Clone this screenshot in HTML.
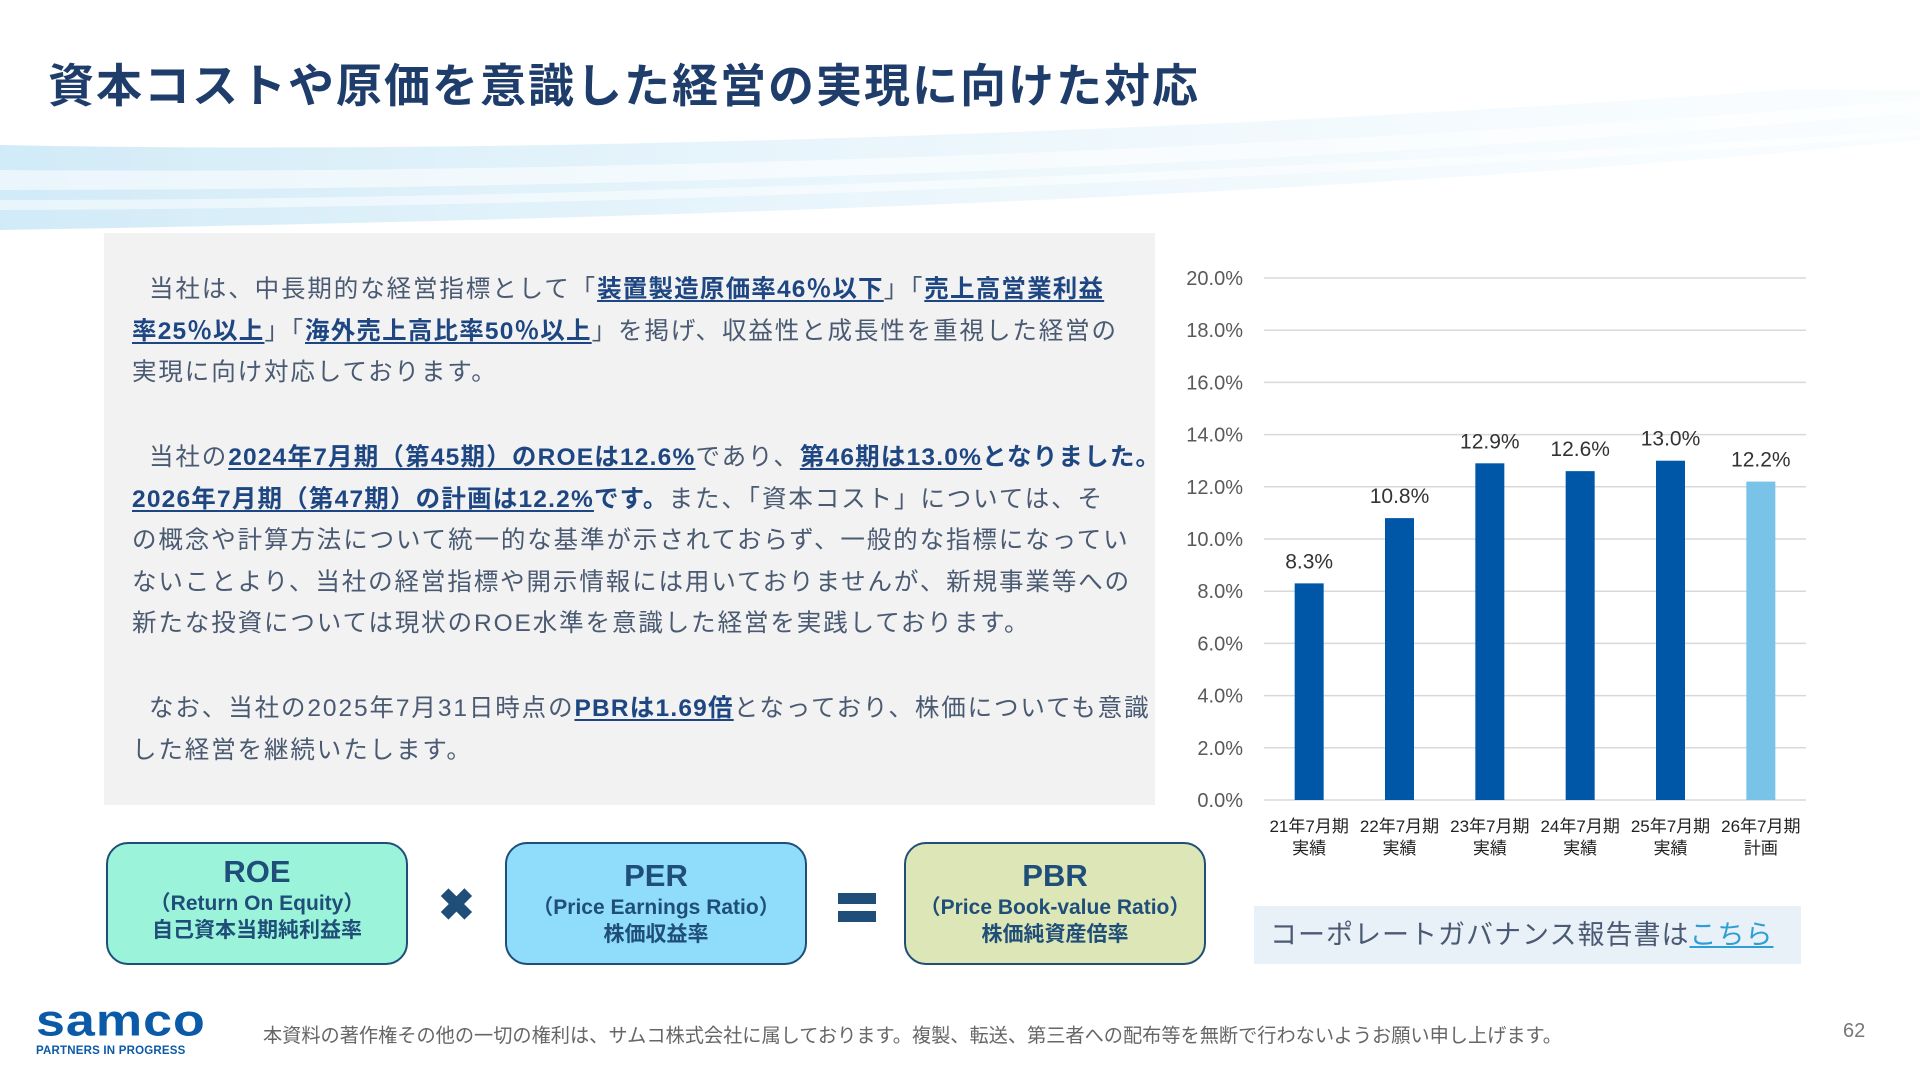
<!DOCTYPE html>
<html><head><meta charset="utf-8">
<style>
html,body{margin:0;padding:0}
body{width:1920px;height:1080px;position:relative;overflow:hidden;background:#fff;font-family:"Liberation Sans","Noto Sans CJK JP",sans-serif}
.abs{position:absolute}
#title{left:48px;top:50px;font-size:46px;font-weight:bold;color:#1f3d6b;white-space:nowrap;letter-spacing:2px}
#wave{left:0;top:90px;width:1920px;height:150px}
#panel{left:104px;top:233px;width:1051px;height:572px;background:#f2f2f2}
.ln{position:absolute;left:132px;font-size:24.5px;color:#4a5a72;white-space:nowrap;letter-spacing:1.9px;line-height:30px}
.ind{display:inline-block;width:17px}
.b{font-weight:bold;color:#1d4682;text-decoration:underline;text-underline-offset:3px;letter-spacing:1.2px}
.bn{font-weight:bold;color:#1d4682;letter-spacing:1.2px}
.box{position:absolute;top:842px;width:298px;height:119px;border:2.5px solid #1f4e79;border-radius:22px;text-align:center;color:#1f4e79;font-weight:bold}
.box .t{font-size:31px;margin-top:10px;line-height:36px}
.box .s{font-size:21px;line-height:27px}
#gov{left:1254px;top:906px;width:547px;height:58px;background:#e8f0f8;font-size:27px;color:#4a5a72;line-height:58px;padding-left:16px;box-sizing:border-box;letter-spacing:1px}
#footer{left:263px;top:1020px;font-size:19.2px;color:#666;white-space:nowrap}
#page{left:1843px;top:1020px;font-size:20px;color:#777}
</style></head><body>
<svg id="wave" class="abs" width="1920" height="150" viewBox="0 0 1920 150">
<defs>
<linearGradient id="g1" x1="0" x2="1"><stop offset="0" stop-color="#c9e7f6" stop-opacity="0.85"/><stop offset="0.5" stop-color="#dff1fa" stop-opacity="0.6"/><stop offset="1" stop-color="#eef8fd" stop-opacity="0.3"/></linearGradient>
</defs>
<path d="M0 55 C500 65 1200 45 1920 -10 L1920 50 C1300 110 600 130 0 140 Z" fill="url(#g1)"/>
<path d="M0 80 C600 85 1300 60 1920 10 L1920 22 C1300 78 600 100 0 100 Z" fill="#ffffff" opacity="0.55"/>
<path d="M0 110 C600 110 1300 80 1920 40 L1920 46 C1300 90 600 118 0 120 Z" fill="#ffffff" opacity="0.5"/>
</svg>
<div id="title" class="abs">資本コストや原価を意識した経営の実現に向けた対応</div>
<div id="panel" class="abs"></div>
<div>
<div class="ln" style="top:275px"><span class="ind"></span>当社は、中長期的な経営指標として「<span class="b">装置製造原価率46％以下</span>」「<span class="b">売上高営業利益</span></div>
<div class="ln" style="top:317px"><span class="b">率25％以上</span>」「<span class="b">海外売上高比率50％以上</span>」を掲げ、収益性と成長性を重視した経営の</div>
<div class="ln" style="top:358px">実現に向け対応しております。</div>
<div class="ln" style="top:443px"><span class="ind"></span>当社の<span class="b">2024年7月期（第45期）のROEは12.6%</span>であり、<span class="b">第46期は13.0%</span><span class="bn">となりました。</span></div>
<div class="ln" style="top:485px"><span class="b">2026年7月期（第47期）の計画は12.2%</span><span class="bn">です。</span>また、「資本コスト」については、そ</div>
<div class="ln" style="top:526px">の概念や計算方法について統一的な基準が示されておらず、一般的な指標になってい</div>
<div class="ln" style="top:568px">ないことより、当社の経営指標や開示情報には用いておりませんが、新規事業等への</div>
<div class="ln" style="top:609px">新たな投資については現状のROE水準を意識した経営を実践しております。</div>
<div class="ln" style="top:694px"><span class="ind"></span>なお、当社の2025年7月31日時点の<span class="b">PBRは1.69倍</span>となっており、株価についても意識</div>
<div class="ln" style="top:736px">した経営を継続いたします。</div>
</div>

<svg id="chart" class="abs" style="left:0;top:0" width="1920" height="1080"></svg>

<div class="box" style="left:106px;background:#9bf3da"><div class="t">ROE</div><div class="s">（Return On Equity）</div><div class="s">自己資本当期純利益率</div></div>
<div class="abs" style="left:438px;top:880px;font-size:44px;color:#1f4e79;font-weight:bold">✖</div>
<div class="box" style="left:505px;background:#8fdcfb"><div class="t" style="margin-top:14px">PER</div><div class="s">（Price Earnings Ratio）</div><div class="s">株価収益率</div></div>
<div class="abs" style="left:838px;top:893px;width:38px;height:11px;background:#1f4e79"></div>
<div class="abs" style="left:838px;top:911px;width:38px;height:11px;background:#1f4e79"></div>
<div class="box" style="left:904px;background:#dde6b6"><div class="t" style="margin-top:14px">PBR</div><div class="s">（Price Book-value Ratio）</div><div class="s">株価純資産倍率</div></div>

<div id="gov" class="abs">コーポレートガバナンス報告書は<span style="color:#2e9fd6;text-decoration:underline">こちら</span></div>

<div class="abs" style="left:36px;top:998px;width:172px">
<div style="font-size:52px;font-weight:bold;color:#0a5aa8;letter-spacing:1px;line-height:46px;transform:scaleY(0.85)">samco</div>
<div style="font-size:11.5px;font-weight:bold;color:#0a5aa8;letter-spacing:0.2px;margin-top:1px">PARTNERS IN PROGRESS</div>
</div>
<div id="footer" class="abs">本資料の著作権その他の一切の権利は、サムコ株式会社に属しております。複製、転送、第三者への配布等を無断で行わないようお願い申し上げます。</div>
<div id="page" class="abs">62</div>

<script>
const categories = ["21年7月期|実績","22年7月期|実績","23年7月期|実績","24年7月期|実績","25年7月期|実績","26年7月期|計画"];
const roeValues = [8.3, 10.8, 12.9, 12.6, 13.0, 12.2];
const valueLabels = ["8.3%","10.8%","12.9%","12.6%","13.0%","12.2%"];
const isPlan = [false,false,false,false,false,true];
const yTicks = [0,2,4,6,8,10,12,14,16,18,20];
const yTickLabels = ["0.0%","2.0%","4.0%","6.0%","8.0%","10.0%","12.0%","14.0%","16.0%","18.0%","20.0%"];

const svg = document.getElementById('chart');
const NS = 'http://www.w3.org/2000/svg';
const X0 = 1264, X1 = 1806, Y0 = 800, Y1 = 278, YMAX = 20;
const yScale = v => Y0 - (v / YMAX) * (Y0 - Y1);
const band = (X1 - X0) / categories.length;
const xCenter = i => X0 + band * (i + 0.5);
function mk(tag, attrs, text){
  const e = document.createElementNS(NS, tag);
  for (const k in attrs) e.setAttribute(k, attrs[k]);
  if (text !== undefined) e.textContent = text;
  svg.appendChild(e);
  return e;
}
yTicks.forEach((t, i) => {
  const g = mk('line', {x1:X0, x2:X1, y1:yScale(t), y2:yScale(t), stroke:'#d9d9d9', 'stroke-width':1.5});
  
  
  const l = mk('text', {x:1243, y:yScale(t)+7, 'text-anchor':'end', 'font-size':20, fill:'#595959', 'font-family':'Liberation Sans, sans-serif'}, yTickLabels[i]);
  
  
});
roeValues.forEach((v, i) => {
  const w = 29;
  const b = mk('rect', {x:xCenter(i)-w/2, y:yScale(v), width:w, height:Y0-yScale(v), fill: isPlan[i] ? '#7ac3e8' : '#0057a8'});
  
  
  const t = mk('text', {x:xCenter(i), y:yScale(v)-15, 'text-anchor':'middle', 'font-size':21, fill:'#333', 'font-family':'Liberation Sans, sans-serif'}, valueLabels[i]);
  
  
  const parts = categories[i].split('|');
  const c1 = mk('text', {x:xCenter(i), y:832, 'text-anchor':'middle', 'font-size':17, fill:'#222', 'font-family':'Liberation Sans, Noto Sans CJK JP, sans-serif'}, parts[0]);
  
  
  const c2 = mk('text', {x:xCenter(i), y:854, 'text-anchor':'middle', 'font-size':17, fill:'#222', 'font-family':'Liberation Sans, Noto Sans CJK JP, sans-serif'}, parts[1]);
  
  
});
</script>
</body></html>
